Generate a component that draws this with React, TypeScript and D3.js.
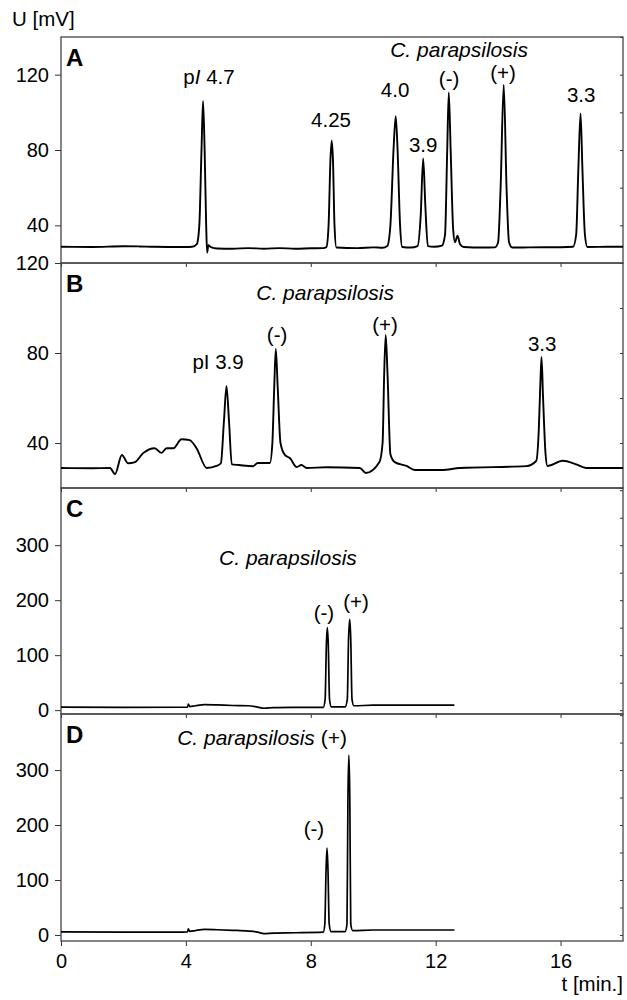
import React, { useEffect, useRef } from "react";
import * as d3 from "d3";

// time axis (minutes)
const timeTicks = [0, 4, 8, 12, 16];

// panel A trace: t [min], U [mV]
const timeA = [0, 1, 2, 2.5, 3, 4, 4.2, 4.35, 4.43, 4.5, 4.55, 4.6, 4.65, 4.68, 4.72, 4.8, 5, 5.5, 6, 6.5, 7, 7.5, 8, 8.4, 8.5, 8.57, 8.63, 8.67, 8.71, 8.76, 8.82, 9.5, 10, 10.3, 10.45, 10.55, 10.65, 10.72, 10.78, 10.86, 10.93, 11.2, 11.42, 11.52, 11.6, 11.67, 11.75, 11.95, 12.2, 12.3, 12.37, 12.42, 12.48, 12.56, 12.62, 12.7, 12.78, 12.9, 13.5, 13.9, 14.0, 14.08, 14.18, 14.27, 14.35, 14.45, 15, 16, 16.4, 16.5, 16.57, 16.64, 16.7, 16.78, 16.86, 17.5, 18];
const signalA = [28.6, 28.5, 28.9, 28.8, 28.6, 28.5, 28.6, 30, 40, 80, 106, 80, 40, 25.5, 29.5, 28.4, 27.7, 27.6, 27.9, 27.6, 27.9, 27.6, 27.8, 27.9, 28.5, 40, 75, 85, 75, 40, 28.2, 27.9, 28.3, 28.1, 29, 40, 80, 98, 80, 40, 28.5, 28.2, 29, 45, 75.5, 50, 29, 28.6, 29.2, 35, 80, 110.5, 80, 38, 31, 34.5, 30, 28.5, 28.2, 28.3, 31, 60, 114.7, 60, 31, 28.2, 28.3, 28.4, 28.6, 35, 70, 99.4, 70, 35, 28.5, 28.6, 28.6];

// panel B trace
const timeB = [0, 1, 1.57, 1.73, 1.95, 2.15, 2.37, 2.63, 3.0, 3.22, 3.38, 3.6, 3.86, 4.12, 4.34, 4.67, 4.98, 5.12, 5.22, 5.3, 5.38, 5.47, 5.7, 6.15, 6.3, 6.69, 6.77, 6.83, 6.88, 6.94, 7.03, 7.17, 7.33, 7.55, 7.7, 7.87, 8.5, 9.57, 9.76, 10.2, 10.3, 10.35, 10.4, 10.46, 10.55, 10.69, 11.07, 11.33, 12.2, 12.77, 14.9, 15.22, 15.3, 15.35, 15.39, 15.44, 15.52, 15.58, 16.07, 16.5, 16.82, 18];
const signalB = [28.9, 28.8, 28.9, 26.2, 34.7, 31, 31.5, 35.5, 37.7, 35.6, 37.7, 37.7, 41.7, 41.3, 37.7, 28.9, 29.8, 31, 50, 65.3, 50, 30.5, 30.2, 29.7, 31.1, 31.1, 40, 65, 81.8, 65, 40, 34.7, 33.3, 29.3, 30.2, 28.9, 29.2, 28.9, 26.7, 31.6, 40, 70, 88, 70, 35, 31.5, 29.8, 28, 28, 28.9, 29.7, 32, 45, 65, 78.2, 60, 35, 29.8, 32.1, 30.5, 28.9, 28.9];

// panel C trace
const timeC = [0, 2, 3.9, 4.05, 4.08, 4.12, 4.3, 4.6, 5, 5.5, 6, 6.3, 6.5, 6.8, 7.5, 8.4, 8.46, 8.5, 8.53, 8.56, 8.6, 8.66, 9.1, 9.17, 9.21, 9.25, 9.28, 9.32, 9.38, 10, 11, 12.6];
const signalC = [5.5, 5.2, 5.3, 5.5, 11, 6.5, 8, 10, 9.5, 8.5, 8, 5.5, 3.5, 4.5, 5, 5.2, 20, 120, 150, 120, 20, 6, 6, 20, 130, 165, 130, 20, 8, 9, 9, 9];

// panel D trace
const timeD = [0, 2, 3.9, 4.05, 4.08, 4.12, 4.3, 4.6, 5, 5.5, 6, 6.3, 6.5, 6.8, 7.5, 8.4, 8.45, 8.49, 8.52, 8.55, 8.59, 8.65, 9.1, 9.16, 9.19, 9.22, 9.25, 9.28, 9.34, 10, 11, 12.6];
const signalD = [5.5, 5.2, 5.3, 5.5, 11, 6.5, 8, 10, 9.5, 8.5, 7, 5, 2.5, 3.5, 4, 5, 20, 120, 158, 120, 20, 6, 6, 20, 250, 327, 250, 20, 8, 9, 9, 9];

// y ticks per panel
const ticksA = [40, 80, 120];
const ticksB = [40, 80, 120];
const ticksC = [0, 100, 200, 300];
const ticksD = [0, 100, 200, 300];

// annotations: [t, U, text]
const labelsA: [number, number, string][] = [[8.65, 92.2, "4.25"], [10.7, 108, "4.0"], [11.6, 79, "3.9"], [12.43, 114, "(-)"], [14.16, 117, "(+)"], [16.66, 105.5, "3.3"]];
const labelsB: [number, number, string][] = [[6.92, 84.9, "(-)"], [10.38, 89.3, "(+)"], [15.41, 80.9, "3.3"]];
const labelsC: [number, number, string][] = [[8.42, 164, "(-)"], [9.45, 184, "(+)"]];
const labelsD: [number, number, string][] = [[8.1, 180, "(-)"]];

const FONT = "'Liberation Sans', Arial, sans-serif";

export default function App() {
  const ref = useRef<SVGSVGElement>(null);

  useEffect(() => {
    const svg = d3.select(ref.current);
    svg.selectAll("*").remove();

    const x = d3.scaleLinear().domain([0, 18]).range([61, 623]);

    const panels = [
      { id: "A", t: timeA, u: signalA, ticks: ticksA, domain: [20, 140], range: [263, 37], labels: labelsA, sw: 1.9 },
      { id: "B", t: timeB, u: signalB, ticks: ticksB, domain: [20, 120], range: [488, 263], labels: labelsB, sw: 1.9 },
      { id: "C", t: timeC, u: signalC, ticks: ticksC, domain: [-7, 404], range: [714, 488], labels: labelsC, sw: 1.7 },
      { id: "D", t: timeD, u: signalD, ticks: ticksD, domain: [-11, 402], range: [941, 714], labels: labelsD, sw: 1.7 },
    ];

    panels.forEach(function (p, i) {
      const y = d3.scaleLinear().domain(p.domain).range(p.range);
      const g = svg.append("g");
      const bottom = p.range[0], top = p.range[1];

      // x ticks along bottom edge of each panel
      const xa = g.append("g")
        .attr("transform", "translate(0," + bottom + ")")
        .call(d3.axisBottom(x).tickValues(timeTicks).tickSize(i === 3 ? 5 : 4).tickPadding(8).tickFormat(i === 3 ? d3.format("d") : () => ""));
      xa.select(".domain").remove();
      xa.selectAll("line").attr("stroke", "#333");
      xa.selectAll("text").style("font-family", FONT).style("font-size", "20px").attr("fill", "#000");

      // left y axis
      const ya = g.append("g")
        .attr("transform", "translate(61,0)")
        .call(d3.axisLeft(y).tickValues(p.ticks).tickSize(6).tickPadding(6));
      ya.select(".domain").remove();
      ya.selectAll("line").attr("stroke", "#333");
      ya.selectAll("text").style("font-family", FONT).style("font-size", "20px").attr("fill", "#000");

      // small inward ticks on the right edge
      const ra = g.append("g")
        .attr("transform", "translate(623,0)")
        .call(d3.axisLeft(y).ticks(p.id === "A" || p.id === "B" ? 6 : 8).tickSize(3).tickFormat(() => ""));
      ra.select(".domain").remove();
      ra.selectAll("line").attr("stroke", "#333");

      // frame
      g.append("rect")
        .attr("x", 61).attr("y", top)
        .attr("width", 562).attr("height", bottom - top)
        .attr("fill", "none").attr("stroke", "#444").attr("stroke-width", 1.3);

      // trace
      const line = d3.line<number>()
        .x(function (d, k) { return x(p.t[k]); })
        .y(function (d) { return y(d); })
        .curve(d3.curveMonotoneX);
      g.append("path")
        .attr("d", line(p.u))
        .attr("fill", "none").attr("stroke", "#000")
        .attr("stroke-width", p.sw).attr("stroke-linejoin", "round");

      // panel letter
      g.append("text")
        .attr("x", 66).attr("y", top + 29)
        .style("font-family", FONT).style("font-size", "24px").style("font-weight", "bold")
        .text(p.id);

      // peak labels
      p.labels.forEach(function (l) {
        g.append("text")
          .attr("x", x(l[0])).attr("y", y(l[1]))
          .attr("text-anchor", "middle")
          .style("font-family", FONT).style("font-size", "20.5px")
          .text(l[2]);
      });

      // species captions
      if (p.id === "A") {
        g.append("text").attr("x", x(12.75)).attr("y", y(129.4)).attr("text-anchor", "middle")
          .style("font-family", FONT).style("font-size", "21px").style("font-style", "italic")
          .text("C. parapsilosis");
        const pi = g.append("text").attr("x", x(4.74)).attr("y", y(115)).attr("text-anchor", "middle")
          .style("font-family", FONT).style("font-size", "20.5px");
        pi.append("tspan").text("p");
        pi.append("tspan").style("font-style", "italic").text("I");
        pi.append("tspan").text(" 4.7");
      }
      if (p.id === "B") {
        g.append("text").attr("x", x(8.46)).attr("y", y(103.6)).attr("text-anchor", "middle")
          .style("font-family", FONT).style("font-size", "21px").style("font-style", "italic")
          .text("C. parapsilosis");
        g.append("text").attr("x", x(5.03)).attr("y", y(72.9)).attr("text-anchor", "middle")
          .style("font-family", FONT).style("font-size", "20.5px")
          .text("pI 3.9");
      }
      if (p.id === "C") {
        g.append("text").attr("x", x(7.27)).attr("y", y(264)).attr("text-anchor", "middle")
          .style("font-family", FONT).style("font-size", "21px").style("font-style", "italic")
          .text("C. parapsilosis");
      }
      if (p.id === "D") {
        const cap = g.append("text").attr("x", x(3.72)).attr("y", y(345))
          .style("font-family", FONT).style("font-size", "21px");
        cap.append("tspan").style("font-style", "italic").text("C. parapsilosis");
        cap.append("tspan").text(" (+)");
      }
    });

    // axis titles
    svg.append("text").attr("x", 12).attr("y", 26)
      .style("font-family", FONT).style("font-size", "20.5px").text("U [mV]");
    svg.append("text").attr("x", 623).attr("y", 991).attr("text-anchor", "end")
      .style("font-family", FONT).style("font-size", "20.5px").text("t [min.]");
  }, []);

  return (
    <svg ref={ref} width={627} height={1000}
      style={{ position: "absolute", left: 0, top: 0, background: "#fff" }} />
  );
}
